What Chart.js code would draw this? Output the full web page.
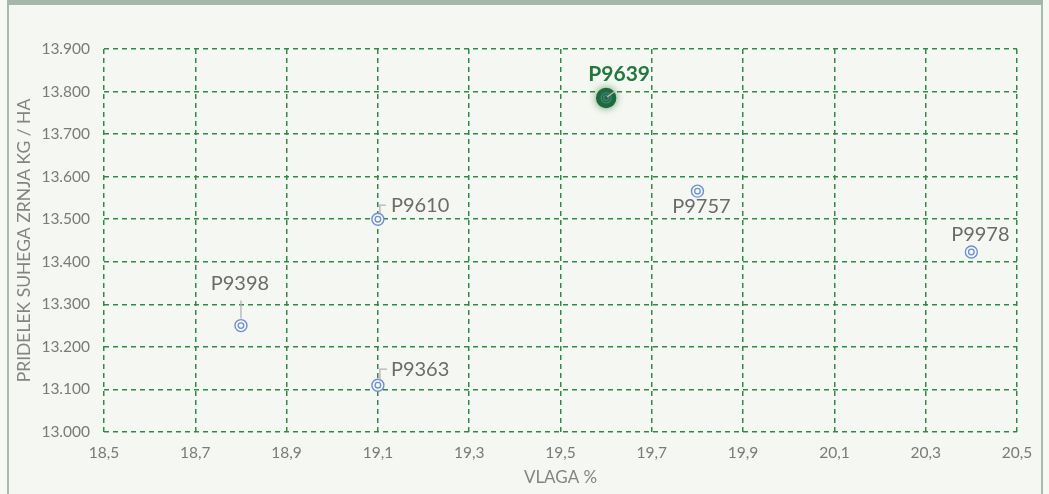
<!DOCTYPE html>
<html><head><meta charset="utf-8">
<script src="https://cdn.jsdelivr.net/npm/chart.js@4/dist/chart.umd.min.js"></script>
<style>
html,body{margin:0;padding:0;width:1049px;height:494px;overflow:hidden;background:#f7f9f4;}
#frame{position:absolute;left:7px;top:0;width:1032px;height:494px;border-left:2px solid #a9bbad;border-right:2px solid #a9bbad;background:#f5f8f2;}
#topbar{position:absolute;left:7px;top:0;width:1036px;height:5px;background:#a5b7a8;}
#wrap{position:absolute;left:0;top:0;width:1049px;height:494px;}
</style></head>
<body>
<div id="frame"></div>
<div id="topbar"></div>
<div id="wrap"><canvas id="c" width="1049" height="494"></canvas></div>
<script>
// ---- data ----
const hybrids  = ['P9639','P9610','P9398','P9363','P9757','P9978'];
const moisture = [19.6, 19.1, 18.8, 19.1, 19.8, 20.4];
const yieldKg  = [13785, 13500, 13250, 13110, 13566, 13423];
const xTicks = [18.5,18.7,18.9,19.1,19.3,19.5,19.7,19.9,20.1,20.3,20.5];
const yTicks = [13000,13100,13200,13300,13400,13500,13600,13700,13800,13900];
const highlight = 'P9639';

// ---- label placement (style/layout, not data) ----
const placement = {
  P9639:{dx:13, dy:-24, align:'center', leader:[[1,-1],[9,-7]]},
  P9610:{dx:13, dy:-14, align:'left',   leader:[[2,-6],[2,-14],[8,-14]]},
  P9398:{dx:-1, dy:-42, align:'center', leader:[[0,-7],[0,-25]]},
  P9363:{dx:13, dy:-16, align:'left',   leader:[[2,-4],[2,-16],[9,-16]]},
  P9757:{dx:4,  dy:15,  align:'center', leader:null},
  P9978:{dx:9,  dy:-17, align:'center', leader:null}
};

const FONT = 'Lato, "Open Sans", sans-serif';
const GRID = '#338848';
const TICK = '#7a7a7a';
const BLUE = '#6d91d0';
const DARK = '#1f6b3b';

function fmtThousands(v){
  const s = Math.round(v).toString();
  return s.replace(/\B(?=(\d{3})+(?!\d))/g,'.');
}

const markerPlugin = {
  id:'markers',
  beforeDatasetsDraw(chart){
    const meta = chart.getDatasetMeta(0);
    const ctx = chart.ctx;
    hybrids.forEach((h,i)=>{
      if(h!==highlight) return;
      const p = meta.data[i];
      ctx.save();
      ctx.shadowColor = 'rgba(31,107,59,0.8)';
      ctx.shadowBlur = 8;
      ctx.fillStyle = DARK;
      ctx.beginPath(); ctx.arc(p.x,p.y,9.5,0,Math.PI*2); ctx.fill();
      ctx.restore();
    });
  },
  afterDatasetsDraw(chart){
    const meta = chart.getDatasetMeta(0);
    const ctx = chart.ctx;
    hybrids.forEach((h,i)=>{
      const p = meta.data[i];
      const hl = h===highlight;
      ctx.save();
      ctx.strokeStyle = hl ? 'rgba(110,150,210,0.45)' : BLUE;
      ctx.lineWidth = 1.3;
      ctx.beginPath(); ctx.arc(p.x,p.y,hl?5:2.8,0,Math.PI*2); ctx.stroke();
      if(hl){ctx.beginPath(); ctx.arc(p.x,p.y,2.5,0,Math.PI*2); ctx.stroke();}
      const pl = placement[h];
      if(pl.leader){
        ctx.strokeStyle = hl ? 'rgba(200,200,200,0.9)' : '#b3b3b3';
        ctx.lineWidth = 1.3;
        ctx.beginPath();
        pl.leader.forEach((pt,k)=>{ if(k===0) ctx.moveTo(p.x+pt[0],p.y+pt[1]); else ctx.lineTo(p.x+pt[0],p.y+pt[1]); });
        ctx.stroke();
      }
      ctx.font = (hl ? 'bold 21px ' : '20px ') + FONT;
      ctx.fillStyle = hl ? '#24773f' : '#6b6b6b';
      ctx.textAlign = pl.align;
      ctx.textBaseline = 'middle';
      ctx.fillText(h, p.x+pl.dx, p.y+pl.dy);
      ctx.restore();
    });
  }
};

const points = hybrids.map((h,i)=>({x:moisture[i], y:yieldKg[i]}));

new Chart(document.getElementById('c'), {
  type:'scatter',
  data:{datasets:[{
    data: points,
    pointRadius: hybrids.map(h=>h===highlight?9.5:6),
    pointHoverRadius: hybrids.map(h=>h===highlight?9.5:6),
    pointBackgroundColor: hybrids.map(h=>h===highlight?DARK:'#f5f8f2'),
    pointBorderColor: hybrids.map(h=>h===highlight?DARK:BLUE),
    pointBorderWidth: 1.4
  }]},
  options:{
    responsive:false, animation:false, devicePixelRatio:1,
    layout:{padding:{left:8, top:49, right:32, bottom:0}},
    plugins:{legend:{display:false}, tooltip:{enabled:false}},
    scales:{
      x:{
        type:'linear', min:18.5, max:20.5,
        afterBuildTicks(s){ s.ticks = xTicks.map(v=>({value:v})); },
        afterFit(s){ s.height = 62; },
        ticks:{callback:v=>Number(v).toFixed(1).replace('.',','), color:TICK, font:{family:FONT,size:15.5}, padding:12, maxRotation:0, autoSkip:false},
        grid:{color:GRID, lineWidth:1.5, drawTicks:false},
        border:{display:false, dash:[5,4]},
        title:{display:true, text:'VLAGA %', color:'#848484', font:{family:FONT,size:17}, padding:{top:0,bottom:6}}
      },
      y:{
        type:'linear', min:13000, max:13900,
        afterBuildTicks(s){ s.ticks = yTicks.map(v=>({value:v})); },
        afterFit(s){ s.width = 96; },
        ticks:{callback:v=>fmtThousands(v), color:TICK, font:{family:FONT,size:15.5}, padding:14, autoSkip:false},
        grid:{color:GRID, lineWidth:1.5, drawTicks:false},
        border:{display:false, dash:[5,4]},
        title:{display:true, text:'PRIDELEK SUHEGA ZRNJA KG / HA', color:'#848484', font:{family:FONT,size:17.5}, padding:{top:6,bottom:0}}
      }
    }
  },
  plugins:[markerPlugin]
});
</script>
</body></html>
